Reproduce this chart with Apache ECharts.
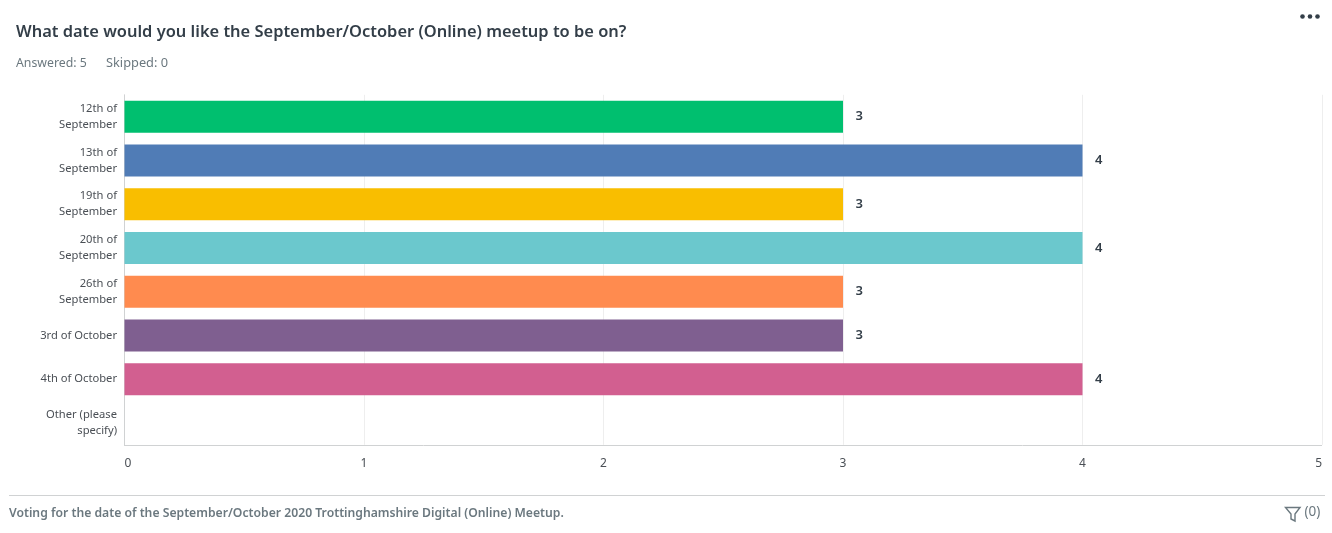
<!DOCTYPE html>
<html lang="en">
<head>
    <meta charset="UTF-8">
    <title>Meetup date poll</title>
    <script src="https://cdn.jsdelivr.net/npm/echarts@6/dist/echarts.min.js"></script>
    <style type="text/css">
        html, body { margin: 0; padding: 0; background: #fff; }
        #chart { width: 1332px; height: 533px; }
    </style>
</head>
<body>
<div id="chart"></div>
<script type="text/javascript">
    var categories = ['12th of\nSeptember', '13th of\nSeptember', '19th of\nSeptember', '20th of\nSeptember',
        '26th of\nSeptember', '3rd of October', '4th of October', 'Other (please\nspecify)'];
    var votes = [3, 4, 3, 4, 3, 3, 4, 0];
    var barColors = ['#00bf6f', '#507cb6', '#f9be00', '#6bc8cd', '#ff8b4f', '#7f5f90', '#d25f90', '#dbdbdb'];
    var xTicks = [0, 1, 2, 3, 4, 5];

    var fontName = '"Noto Sans", sans-serif';
    var myChart = echarts.init(document.getElementById('chart'), null, {renderer: 'canvas'});

    var option = {
        animation: false,
        textStyle: {fontFamily: fontName},
        grid: {left: 124.5, right: 10, top: 94.8, height: 350, containLabel: false},
        xAxis: {
            type: 'value',
            min: xTicks[0],
            max: xTicks[xTicks.length - 1],
            interval: 1,
            axisLine: {show: false},
            axisTick: {show: false},
            splitLine: {show: true, lineStyle: {color: '#eeeeee', width: 1}},
            axisLabel: {
                color: '#4a4f55', fontSize: 12, margin: 12.5, fontFamily: fontName,
                alignMinLabel: 'left', alignMaxLabel: 'right'
            }
        },
        yAxis: {
            type: 'category',
            inverse: true,
            data: categories,
            axisLine: {show: true, lineStyle: {color: '#d0d2d3', width: 1}},
            axisTick: {show: false},
            axisLabel: {color: '#4a4f55', fontSize: 11.2, lineHeight: 16, margin: 7.5, padding: [2, 0, 0, 0], fontFamily: fontName, align: 'right'}
        },
        series: [{
            type: 'bar',
            barWidth: 32,
            data: votes.map(function (v, i) {
                return {value: v, itemStyle: {color: barColors[i]}};
            }),
            label: {
                show: true,
                position: 'right',
                distance: 12.5,
                color: '#333e48',
                fontSize: 13,
                fontWeight: 600,
                padding: [1, 0, 0, 0],
                fontFamily: fontName,
                formatter: function (p) { return p.value > 0 ? p.value : ''; }
            }
        }],
        graphic: [
            {type: 'text', left: 16, top: 24, style: {text: 'What date would you like the September/October (Online) meetup to be on?', fill: '#333e48', fontSize: 16.45, fontWeight: 600, fontFamily: fontName}},
            {type: 'text', left: 16, top: 57, style: {text: 'Answered: 5', fill: '#6b787f', fontSize: 12.3, fontFamily: fontName}},
            {type: 'text', left: 106, top: 57, style: {text: 'Skipped: 0', fill: '#6b787f', fontSize: 12.8, fontFamily: fontName}},
            {type: 'circle', shape: {cx: 1302.5, cy: 16.5, r: 2.3}, style: {fill: '#333e48'}},
            {type: 'circle', shape: {cx: 1310, cy: 16.5, r: 2.3}, style: {fill: '#333e48'}},
            {type: 'circle', shape: {cx: 1317.5, cy: 16.5, r: 2.3}, style: {fill: '#333e48'}},
            // x baseline and footer rule
            {type: 'line', shape: {x1: 124, y1: 445.5, x2: 1322, y2: 445.5}, style: {stroke: '#d0d2d3', lineWidth: 1}},
            {type: 'line', shape: {x1: 9, y1: 495.5, x2: 1325, y2: 495.5}, style: {stroke: '#d0d2d3', lineWidth: 1}},
            {type: 'text', left: 9, top: 508, style: {text: 'Voting for the date of the September/October 2020 Trottinghamshire Digital (Online) Meetup.', fill: '#6b787f', fontSize: 12.2, fontWeight: 600, fontFamily: fontName}},
            // filter icon
            {type: 'polygon', shape: {points: [[1285.5, 507.5], [1300, 507.5], [1295, 514], [1295, 521], [1291, 519], [1291, 514]]}, style: {fill: 'none', stroke: '#6b787f', lineWidth: 1.4}},
            {type: 'text', left: 1304.5, top: 505.5, style: {text: '(0)', fill: '#6b787f', fontSize: 13.5, fontFamily: fontName}}
        ]
    };
    myChart.setOption(option);
</script>
</body>
</html>
